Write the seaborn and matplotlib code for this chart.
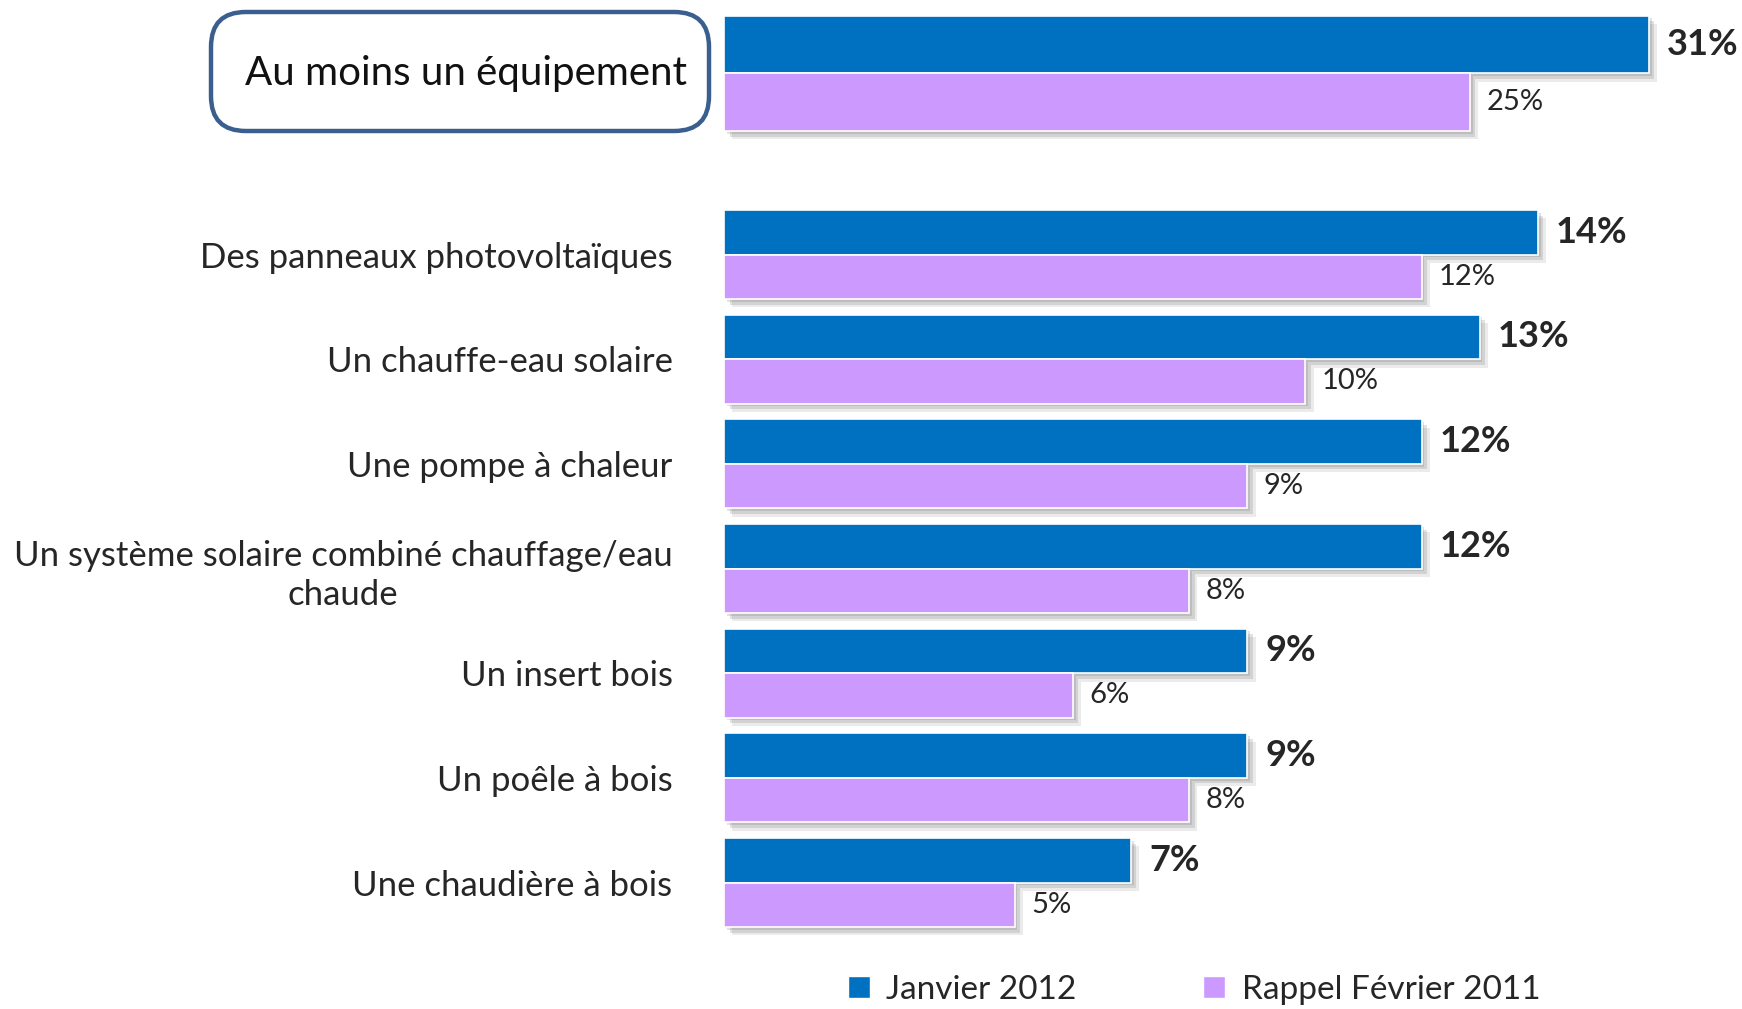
import matplotlib
matplotlib.use("Agg")
import matplotlib.pyplot as plt
import matplotlib.patheffects as pe
from matplotlib.patches import FancyBboxPatch, Patch
from matplotlib import font_manager
import seaborn as sns
import pandas as pd

# ---------------- data ----------------
series = ["Janvier 2012", "Rappel Février 2011"]
top_label = "Au moins un équipement"
top_jan = [31]
top_fev = [25]
categories = [
    "Des panneaux photovoltaïques",
    "Un chauffe-eau solaire",
    "Une pompe à chaleur",
    "Un système solaire combiné chauffage/eau\nchaude",
    "Un insert bois",
    "Un poêle à bois",
    "Une chaudière à bois",
]
jan_values = [14, 13, 12, 12, 9, 9, 7]
fev_values = [12, 10, 9, 8, 6, 8, 5]

colors = ["#0070C0", "#CC99FF"]

# ---------------- fonts ----------------
names = {f.name for f in font_manager.fontManager.ttflist}
label_font = "Lato" if "Lato" in names else "DejaVu Sans"
FAM = [label_font, "DejaVu Sans"]

sns.set_theme(style="white")
plt.rcParams["font.family"] = FAM

df_top = pd.DataFrame({
    "cat": [top_label] * 2,
    "val": top_jan + top_fev,
    "serie": series,
})
df = pd.DataFrame({
    "cat": categories * 2,
    "val": jan_values + fev_values,
    "serie": [series[0]] * len(categories) + [series[1]] * len(categories),
})

fig = plt.figure(figsize=(17.42, 10.09), dpi=100)
ax_top = fig.add_axes([0.4156, 0.860, 0.584, 0.1347])
ax = fig.add_axes([0.4156, 0.0735, 0.584, 0.7261])

shadow = [
    pe.SimplePatchShadow(offset=(2, -2), shadow_rgbFace="#606060", alpha=0.18),
    pe.SimplePatchShadow(offset=(4, -4), shadow_rgbFace="#606060", alpha=0.18),
    pe.SimplePatchShadow(offset=(6, -6), shadow_rgbFace="#606060", alpha=0.12),
    pe.Normal(),
]

for a, d, xmax in [(ax_top, df_top, 34.1), (ax, df, 17.5)]:
    sns.barplot(data=d, y="cat", x="val", hue="serie", hue_order=series,
                palette=colors, orient="h", width=0.85, legend=False,
                edgecolor="white", linewidth=1.2, ax=a, saturation=1)
    for p in a.patches:
        p.set_path_effects(shadow)
    a.set_xlim(0, xmax)
    a.set_xlabel("")
    a.set_ylabel("")
    a.set_xticks([])
    for s in a.spines.values():
        s.set_visible(False)
    a.tick_params(axis="y", length=0, pad=37)
    c_jan, c_fev = a.containers[0], a.containers[1]
    a.bar_label(c_jan, labels=[f"{int(v)}%" for v in c_jan.datavalues],
                padding=13, fontsize=26, fontweight="bold", color="#262626",
                family=FAM)
    a.bar_label(c_fev, labels=[f"{int(v)}%" for v in c_fev.datavalues],
                padding=12, fontsize=21, color="#262626", family=FAM)

ax.set_ylim(6.5, -0.5)
ax_top.set_ylim(0.5, -0.5)
ax_top.set_yticks([])
for t in ax.get_yticklabels():
    t.set_fontsize(25)
    t.set_color("#262626")
    t.set_multialignment("center")
    t.set_linespacing(1.3)

# boxed title for the top group
W, H = 1742, 1009
box = FancyBboxPatch((211 / W, 1 - 131 / H), (709 - 211) / W, (131 - 12) / H,
                     boxstyle="round,pad=0,rounding_size=0.02",
                     transform=fig.transFigure, facecolor="white",
                     edgecolor="#3A5F8F", linewidth=3.2, mutation_aspect=W / H)
fig.patches.append(box)
fig.text(466 / W, 1 - 73 / H, top_label, ha="center", va="center",
         fontsize=29, color="#111111")

handles = [Patch(facecolor=c, edgecolor="white") for c in colors]
leg = fig.legend(handles, series, loc="center", bbox_to_anchor=(1194 / W, 1 - 990 / H),
                 ncol=2, frameon=False, handlelength=0.65, handleheight=0.65,
                 handletextpad=0.5, columnspacing=3.8,
                 prop={"family": FAM, "size": 24})
for t in leg.get_texts():
    t.set_color("#262626")

fig.savefig("out.png", dpi=100, facecolor="white")
